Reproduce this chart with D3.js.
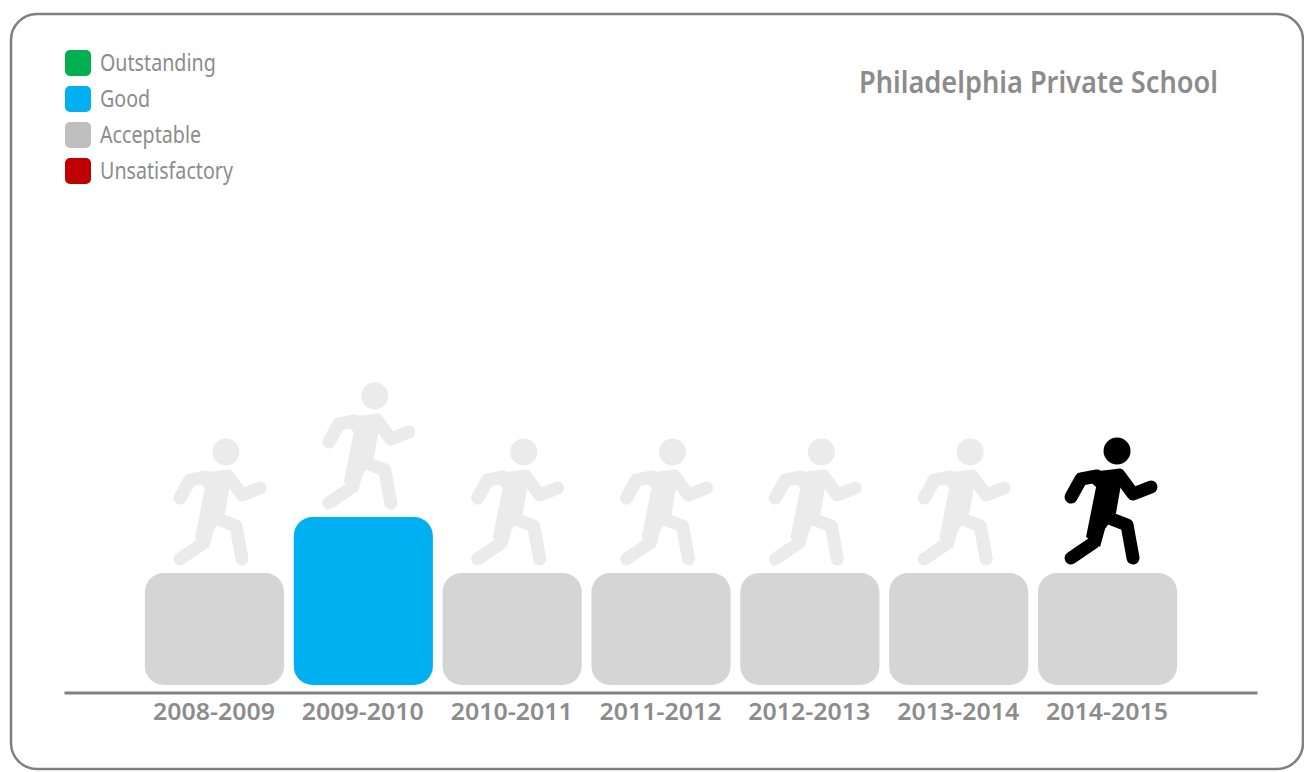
<!DOCTYPE html>
<html>
<head>
<meta charset="utf-8">
<script src="https://d3js.org/d3.v7.min.js"></script>
<style>
  html, body { margin: 0; padding: 0; background: #fff; overflow: hidden; }
  text { font-family: "Noto Sans", sans-serif; fill: #8c8c8c; }
</style>
</head>
<body>
<svg id="chart" width="1304" height="772"></svg>
<script>
const years = ["2008-2009", "2009-2010", "2010-2011", "2011-2012", "2012-2013", "2013-2014", "2014-2015"];
const ratings = ["Acceptable", "Good", "Acceptable", "Acceptable", "Acceptable", "Acceptable", "Acceptable"];
const legendNames = ["Outstanding", "Good", "Acceptable", "Unsatisfactory"];
const legendColors = ["#00b050", "#00b0f0", "#bfbfbf", "#c00000"];
const ratingLevels = { Unsatisfactory: 1, Acceptable: 2, Good: 3, Outstanding: 4 };
const barColors = { Outstanding: "#00b050", Good: "#00b0f0", Acceptable: "#d5d5d5", Unsatisfactory: "#c00000" };
const title = "Philadelphia Private School";

const svg = d3.select("#chart");

// card border, runs off the right edge a little
svg.append("rect")
  .attr("x", 11).attr("y", 14)
  .attr("width", 1292).attr("height", 755)
  .attr("rx", 26)
  .attr("fill", "#fff")
  .attr("stroke", "#7f7f7f")
  .attr("stroke-width", 2.5);

const x = d3.scaleBand()
  .domain(years)
  .range([64, 1257])
  .paddingInner(0.065)
  .paddingOuter(0.54);

const y = d3.scaleLinear().domain([0, 4]).range([685, 461]);

// bars
svg.append("g")
  .selectAll("rect")
  .data(years)
  .enter()
  .append("rect")
  .attr("x", d => x(d) + 0.5)
  .attr("y", (d, i) => y(ratingLevels[ratings[i]]))
  .attr("width", x.bandwidth())
  .attr("height", (d, i) => y(0) - y(ratingLevels[ratings[i]]))
  .attr("rx", 19)
  .attr("fill", (d, i) => barColors[ratings[i]]);

// axis
const axis = svg.append("g")
  .attr("transform", "translate(0,692.5)")
  .call(d3.axisBottom(x).tickSize(0).tickSizeOuter(0).tickPadding(10));
axis.select(".domain").attr("stroke", "#808080").attr("stroke-width", 3);
axis.selectAll("text")
  .style("font-family", '"Noto Sans", sans-serif')
  .style("font-size", "24px")
  .style("font-weight", 600)
  .style("fill", "#8c8c8c")
  .attr("textLength", 122)
  .attr("lengthAdjust", "spacingAndGlyphs");

// runner icon, offsets are from the bar's top centre
const limbs = d3.line().curve(d3.curveLinear);
const runnerLimbs = [
  [[-36, -76], [-26, -94], [-10, -97]],
  [[12, -98], [26, -79], [44, -86]],
  [[-36, -15], [-14, -30]],
  [[2, -55], [20, -48], [26, -15]]
];
const runnerTorso = [[-26, -100], [9, -104], [16, -100], [9, -60], [-2, -44], [-7, -26], [-21, -36], [-11, -86]];

const runners = svg.append("g")
  .selectAll("g")
  .data(years)
  .enter()
  .append("g")
  .attr("transform", (d, i) => {
    const last = i === years.length - 1;
    const cx = x(d) + x.bandwidth() / 2 + (last ? 0 : 2);
    return `translate(${cx},${y(ratingLevels[ratings[i]]) + (last ? 0 : 1)})`;
  })
  .attr("color", (d, i) => (i === years.length - 1 ? "#000" : "#ebebeb"));

runners.append("circle")
  .attr("cx", 10).attr("cy", -122).attr("r", 13.5)
  .attr("fill", "currentColor");
runners.append("path")
  .attr("d", limbs(runnerTorso) + "Z")
  .attr("fill", "currentColor");
runners.selectAll("path.limb")
  .data(runnerLimbs)
  .enter()
  .append("path")
  .attr("class", "limb")
  .attr("d", limbs)
  .attr("fill", "none")
  .attr("stroke", "currentColor")
  .attr("stroke-width", 13)
  .attr("stroke-linecap", "round")
  .attr("stroke-linejoin", "round");

// legend
const legend = svg.append("g")
  .selectAll("g")
  .data(legendNames)
  .enter()
  .append("g")
  .attr("transform", (d, i) => `translate(65,${50 + i * 36})`);
legend.append("rect")
  .attr("width", 26).attr("height", 26).attr("rx", 5)
  .attr("fill", (d, i) => legendColors[i]);
// the original face is condensed, squeeze the text to its width
legend.append("text")
  .attr("transform", "translate(35,21) scale(0.82,1)")
  .attr("font-size", 24)
  .text(d => d);

svg.append("text")
  .attr("x", 1218).attr("y", 93)
  .attr("text-anchor", "end")
  .attr("font-size", 30)
  .attr("font-weight", 600)
  .attr("textLength", 359)
  .attr("lengthAdjust", "spacingAndGlyphs")
  .text(title);
</script>
</body>
</html>
